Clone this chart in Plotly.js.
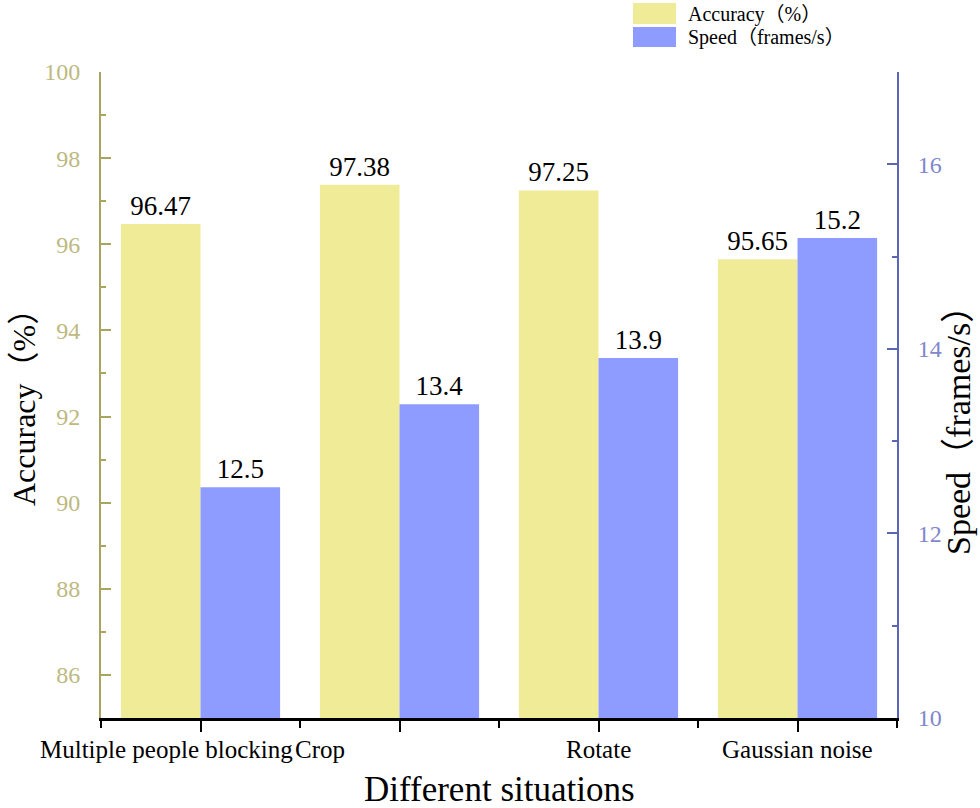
<!DOCTYPE html>
<html>
<head>
<meta charset="utf-8">
<script src="https://cdn.plot.ly/plotly-3.0.1.min.js"></script>
<style>
  html, body { margin: 0; padding: 0; background: #fff; }
  #chart { width: 980px; height: 808px; }
</style>
</head>
<body>
<div id="chart"></div>
<script>
// values
const categories = ["Multiple people blocking", "Crop", "Rotate", "Gaussian noise"];
const accuracy = [96.47, 97.38, 97.25, 95.65];
const speed = [12.5, 13.4, 13.9, 15.2];
const seriesNames = ["Accuracy（%）", "Speed（frames/s）"];
const accTicks = [86, 88, 90, 92, 94, 96, 98, 100];
const speedTicks = [10, 12, 14, 16];

const serif = "'Liberation Serif', 'Times New Roman', 'Noto Sans CJK SC', serif";
const yellow = "#f0eb96";
const blue = "#8e9bff";
const olive = "#a9a55e";
const oliveText = "#bdb97f";
const navy = "#5c66b8";
const navyText = "#7f88cc";

// first two category labels sit left of their ticks in the original
const labelShift = [-34, -80, 0, 0];

const xPos = categories.map((c, i) => i);

const traces = [
    {
        type: "bar",
        name: seriesNames[0],
        x: xPos,
        y: accuracy,
        yaxis: "y",
        offsetgroup: "1",
        marker: { color: yellow },
        text: accuracy.map(v => v.toFixed(2)),
        textposition: "outside",
        textfont: { family: serif, size: 27, color: "#000" },
        cliponaxis: false,
        hoverinfo: "skip"
    },
    {
        type: "bar",
        name: seriesNames[1],
        x: xPos,
        y: speed,
        yaxis: "y2",
        offsetgroup: "2",
        marker: { color: blue },
        text: speed.map(v => String(v)),
        textposition: "outside",
        textfont: { family: serif, size: 27, color: "#000" },
        cliponaxis: false,
        hoverinfo: "skip"
    }
];

const plotL = 101, plotR = 897, plotT = 72, plotB = 718;
const W = plotR - plotL, H = plotB - plotT;
const px = x => (x - plotL) / W;
const py = y => (plotB - y) / H;

const annotations = [];
categories.forEach((c, i) => {
    annotations.push({
        text: c, x: i, xref: "x", y: py(750), yref: "paper",
        xanchor: "center", yanchor: "middle", xshift: labelShift[i],
        showarrow: false, font: { family: serif, size: 25, color: "#000" }
    });
});
annotations.push({
    text: "Different situations", x: 0.5, xref: "paper", y: py(789), yref: "paper",
    xanchor: "center", yanchor: "middle", showarrow: false,
    font: { family: serif, size: 35, color: "#000" }
});
annotations.push({
    text: seriesNames[0], x: px(24), xref: "paper", y: py(400), yref: "paper",
    xanchor: "center", yanchor: "middle", textangle: -90, showarrow: false,
    font: { family: serif, size: 32, color: "#000" }
});
annotations.push({
    text: seriesNames[1], x: px(958), xref: "paper", y: py(422), yref: "paper",
    xanchor: "center", yanchor: "middle", textangle: -90, showarrow: false,
    font: { family: serif, size: 34, color: "#000" }
});
// hand-drawn legend like the original
seriesNames.forEach((n, i) => {
    annotations.push({
        text: n, x: px(686), xref: "paper", y: py(i === 0 ? 14 : 37), yref: "paper",
        xanchor: "left", yanchor: "middle", showarrow: false,
        font: { family: serif, size: 20, color: "#000" }
    });
});

const shapes = [
    { type: "rect", xref: "paper", yref: "paper", x0: px(633), x1: px(676), y0: py(24), y1: py(3),
      fillcolor: yellow, line: { width: 0 } },
    { type: "rect", xref: "paper", yref: "paper", x0: px(633), x1: px(676), y0: py(47), y1: py(27),
      fillcolor: blue, line: { width: 0 } }
];

const layout = {
    width: 980,
    height: 808,
    margin: { l: plotL, r: 980 - plotR, t: plotT, b: 808 - plotB },
    paper_bgcolor: "#fff",
    plot_bgcolor: "#fff",
    barmode: "group",
    bargap: 0.2,
    bargroupgap: 0,
    showlegend: false,
    font: { family: serif },
    xaxis: {
        type: "linear",
        range: [-0.5, 3.5],
        tickvals: xPos,
        showticklabels: false,
        ticks: "outside",
        ticklen: 11,
        tickwidth: 2,
        tickcolor: "#000",
        minor: { tick0: 0.5, dtick: 1, ticks: "outside", ticklen: 7, tickwidth: 2, tickcolor: "#000" },
        showline: true,
        linecolor: "#000",
        linewidth: 3,
        showgrid: false,
        zeroline: false,
        fixedrange: true
    },
    yaxis: {
        range: [85, 100],
        tickvals: accTicks,
        ticks: "inside",
        ticklen: 10,
        tickwidth: 2,
        tickcolor: olive,
        minor: { dtick: 1, tick0: 0, ticks: "inside", ticklen: 5, tickwidth: 2, tickcolor: olive },
        tickfont: { family: serif, size: 24, color: oliveText },
        ticklabelstandoff: 14,
        showline: true,
        linecolor: olive,
        linewidth: 2,
        showgrid: false,
        zeroline: false,
        fixedrange: true
    },
    yaxis2: {
        overlaying: "y",
        side: "right",
        range: [10, 17],
        tickvals: speedTicks,
        ticks: "inside",
        ticklen: 10,
        tickwidth: 2,
        tickcolor: navy,
        minor: { dtick: 1, tick0: 0, ticks: "inside", ticklen: 5, tickwidth: 2, tickcolor: navy },
        tickfont: { family: serif, size: 24, color: navyText },
        ticklabelstandoff: 14,
        showline: true,
        linecolor: navy,
        linewidth: 2,
        showgrid: false,
        zeroline: false,
        fixedrange: true
    },
    annotations: annotations,
    shapes: shapes
};

Plotly.newPlot("chart", traces, layout, { displayModeBar: false, staticPlot: true });
</script>
</body>
</html>
